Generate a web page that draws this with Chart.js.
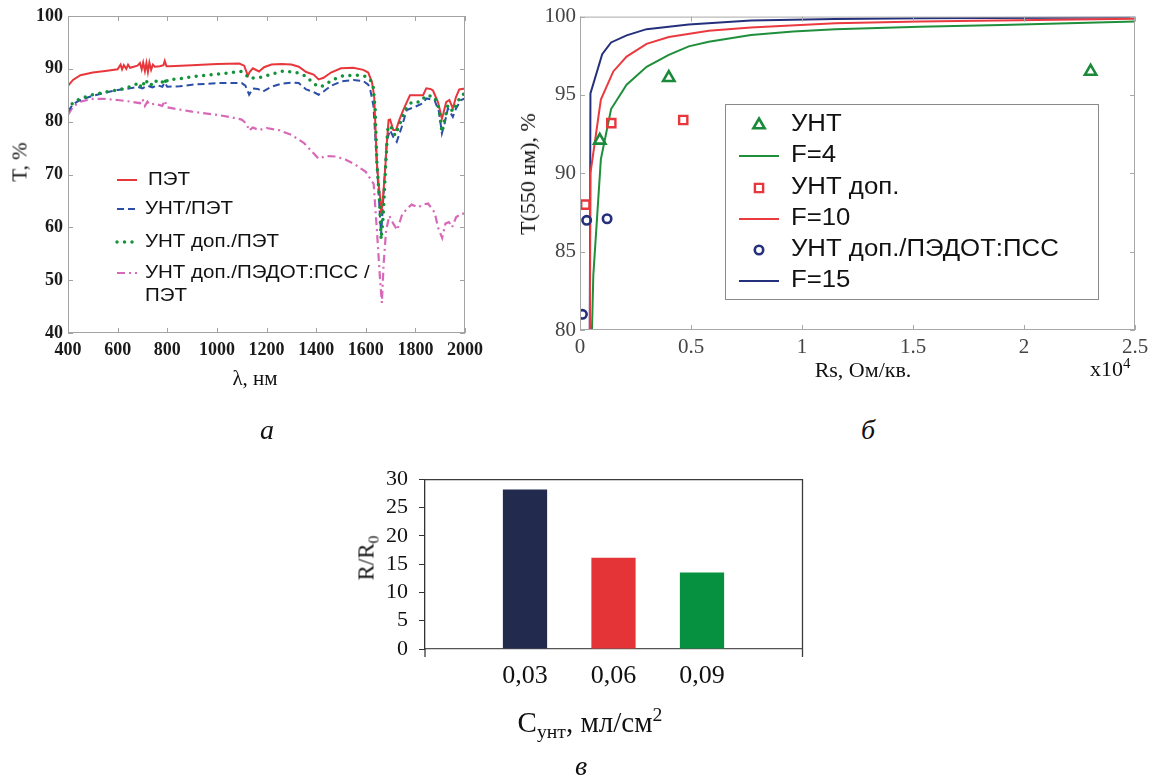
<!DOCTYPE html>
<html>
<head>
<meta charset="utf-8">
<script src="https://cdn.jsdelivr.net/npm/chart.js@4.4.0/dist/chart.umd.min.js"></script>
<style>
  html, body { margin: 0; padding: 0; background: #fff; }
  #page { position: relative; width: 1157px; height: 780px; overflow: hidden; font-family: "Liberation Serif", "Times New Roman", serif; color: #111; }
  .box { position: absolute; }
  .lbl { position: absolute; white-space: nowrap; line-height: 1; }
  .rot { transform: translate(-50%, -50%) rotate(-90deg); }
  .cen { transform: translate(-50%, -50%); }
  .it { font-style: italic; font-size: 28px; }
  .sub { font-size: 0.68em; position: relative; top: 0.3em; }
  .sup { font-size: 0.68em; position: relative; top: -0.55em; }
</style>
</head>
<body>
<div id="page">
  <div class="box" style="left:0;top:0;width:490px;height:400px"><canvas id="chA"></canvas></div>
  <div class="box" style="left:500px;top:0;width:657px;height:400px"><canvas id="chB"></canvas></div>
  <div class="box" style="left:340px;top:455px;width:480px;height:300px"><canvas id="chC"></canvas></div>

  <div class="lbl rot" style="left:20px;top:162px;font-size:21px">T, %</div>
  <div class="lbl cen" style="left:255px;top:378px;font-size:21px">λ, нм</div>
  <div class="lbl cen it" style="left:267px;top:430px">а</div>

  <div class="lbl rot" style="left:528px;top:174px;font-size:22px">T(550 нм), %</div>
  <div class="lbl cen" style="left:863px;top:370px;font-size:22px">Rs, Ом/кв.</div>
  <div class="lbl" style="left:1090px;top:358px;font-size:22px">x10<span class="sup">4</span></div>
  <div class="lbl cen it" style="left:868px;top:430px">б</div>

  <div class="lbl rot" style="left:366px;top:558px;font-size:23px">R/R<span class="sub">0</span></div>
  <div class="lbl cen" style="left:590px;top:722px;font-size:29px">C<span class="sub">унт</span>, мл/см<span class="sup">2</span></div>
  <div class="lbl cen it" style="left:581px;top:766px">в</div>
</div>

<script>
// ---- panel a: transmission spectra, T (%) vs wavelength (nm) ----
const lamPet = [400, 420, 450, 500, 550, 600, 612, 618, 625, 635, 642, 650, 665, 680, 690, 697, 703, 710, 716, 722, 728, 735, 742, 750, 770, 785, 790, 797, 810, 900, 1000, 1090, 1110, 1125, 1132, 1145, 1170, 1190, 1220, 1260, 1300, 1330, 1360, 1390, 1410, 1430, 1460, 1500, 1550, 1590, 1610, 1625, 1634, 1645, 1652, 1658, 1663, 1670, 1678, 1685, 1692, 1698, 1711, 1722, 1735, 1751, 1778, 1800, 1831, 1844, 1860, 1871, 1891, 1907, 1913, 1924, 1937, 1951, 1964, 1977, 2000];
const tPet = [86.8, 87.9, 88.8, 89.3, 89.6, 89.9, 90.8, 89.9, 90.7, 90.0, 90.8, 90.2, 90.4, 90.6, 91.1, 89.9, 91.2, 89.6, 91.1, 89.4, 91.2, 89.8, 90.8, 90.4, 90.5, 90.7, 91.5, 90.5, 90.5, 90.7, 90.9, 91.0, 90.6, 88.7, 89.4, 90.1, 89.5, 90.3, 90.8, 90.9, 90.8, 90.4, 89.4, 88.9, 88.0, 88.3, 89.3, 90.1, 90.2, 89.8, 89.3, 87.5, 84.7, 72.1, 68.0, 65.7, 62.5, 66.0, 70.8, 76.0, 80.3, 80.4, 78.4, 78.4, 80.3, 82.2, 85.0, 85.0, 85.0, 86.3, 86.2, 85.9, 83.7, 80.6, 81.6, 83.7, 84.1, 82.5, 84.7, 86.1, 86.3];

const lamCnt = [400, 420, 450, 500, 550, 600, 650, 680, 700, 720, 740, 760, 780, 790, 800, 850, 900, 1000, 1100, 1115, 1130, 1145, 1165, 1185, 1220, 1260, 1300, 1330, 1360, 1390, 1410, 1430, 1460, 1500, 1550, 1590, 1610, 1618, 1631, 1645, 1655, 1662, 1670, 1685, 1698, 1711, 1725, 1745, 1765, 1798, 1831, 1844, 1877, 1895, 1907, 1918, 1931, 1951, 1964, 1984, 2000];
const tCnt = [81.9, 83.3, 84.1, 84.9, 85.5, 86.0, 86.3, 86.6, 86.3, 86.8, 86.5, 86.9, 86.6, 87.4, 86.6, 86.7, 87.0, 87.3, 87.3, 86.8, 85.1, 86.3, 86.2, 85.7, 86.6, 87.2, 87.4, 87.3, 86.1, 85.6, 85.1, 85.7, 86.8, 87.6, 87.9, 87.7, 87.0, 86.1, 83.0, 72.0, 64.0, 58.5, 65.0, 76.5, 78.4, 77.1, 76.2, 79.0, 82.2, 82.8, 83.5, 84.4, 84.1, 81.9, 77.8, 79.7, 82.5, 80.9, 82.5, 84.1, 84.4];

const lamCntDop = [400, 420, 450, 500, 550, 600, 650, 680, 690, 700, 710, 720, 735, 750, 765, 780, 790, 795, 800, 850, 900, 1000, 1100, 1115, 1130, 1150, 1180, 1220, 1270, 1320, 1360, 1390, 1410, 1430, 1470, 1510, 1560, 1600, 1618, 1630, 1638, 1645, 1656, 1662, 1670, 1678, 1688, 1698, 1718, 1735, 1758, 1785, 1818, 1844, 1877, 1895, 1907, 1918, 1931, 1951, 1964, 1984, 2000];
const tCntDop = [82.2, 83.6, 84.4, 85.1, 85.6, 86.0, 86.6, 87.2, 86.5, 87.6, 86.7, 87.8, 87.0, 87.9, 87.2, 87.5, 88.2, 87.0, 87.9, 88.1, 88.5, 89.0, 89.5, 89.0, 88.2, 88.3, 88.4, 89.0, 89.6, 89.3, 88.6, 87.2, 86.6, 86.8, 88.0, 88.7, 88.8, 88.6, 88.0, 86.6, 82.4, 72.1, 64.7, 57.7, 62.0, 69.6, 78.4, 79.3, 77.4, 79.3, 82.2, 83.7, 83.7, 85.0, 84.7, 82.5, 78.0, 80.3, 83.1, 81.9, 83.1, 85.0, 85.3];

const lamPedot = [400, 420, 450, 500, 550, 600, 650, 690, 700, 710, 720, 730, 750, 780, 790, 800, 900, 1000, 1050, 1100, 1120, 1130, 1145, 1170, 1200, 1250, 1300, 1350, 1380, 1410, 1440, 1480, 1520, 1560, 1600, 1632, 1645, 1658, 1665, 1672, 1682, 1695, 1711, 1727, 1745, 1765, 1785, 1811, 1831, 1851, 1878, 1891, 1908, 1921, 1935, 1948, 1964, 1984, 2000];
const tPedot = [81.3, 82.8, 83.8, 84.3, 84.3, 84.1, 83.8, 83.5, 84.3, 83.0, 83.8, 83.2, 83.4, 83.0, 84.0, 82.7, 81.9, 81.3, 80.9, 80.4, 79.6, 78.3, 78.9, 78.4, 78.8, 78.4, 77.5, 76.0, 74.5, 73.0, 73.5, 73.4, 72.8, 71.8, 70.5, 68.2, 59.4, 49.9, 45.7, 53.1, 59.4, 62.2, 60.7, 59.5, 62.2, 63.5, 64.3, 63.8, 64.3, 64.5, 62.8, 60.0, 58.0, 60.7, 61.0, 60.0, 61.9, 62.6, 62.6];

const legendTextA = [['ПЭТ'], ['УНТ/ПЭТ'], ['УНТ доп./ПЭТ'], ['УНТ доп./ПЭДОТ:ПСС /', 'ПЭТ']];

// ---- panel b: T(550 nm) vs sheet resistance (x10^4 Ohm/sq) ----
const rsF4 = [0.045, 0.06, 0.094, 0.14, 0.21, 0.30, 0.40, 0.49, 0.58, 0.77, 0.96, 1.15, 1.53, 1.90, 2.50];
const tF4 = [75.0, 83.5, 90.9, 94.1, 95.65, 96.8, 97.56, 98.1, 98.4, 98.83, 99.05, 99.2, 99.36, 99.47, 99.68];
const rsF10 = [0.042, 0.047, 0.094, 0.15, 0.21, 0.30, 0.40, 0.58, 0.77, 1.15, 1.53, 2.50];
const tF10 = [70.0, 90.0, 94.7, 96.5, 97.45, 98.26, 98.7, 99.1, 99.3, 99.58, 99.68, 99.87];
const rsF15 = [0.042, 0.047, 0.10, 0.14, 0.21, 0.30, 0.49, 0.77, 1.15, 1.53, 2.50];
const tF15 = [70.0, 95.1, 97.6, 98.35, 98.8, 99.2, 99.5, 99.75, 99.85, 99.9, 99.95];
const rsCnt = [0.089, 0.40, 2.30];
const tCntPts = [92.1, 96.1, 96.5];
const rsCntDop = [0.024, 0.141, 0.465];
const tCntDopPts = [88.0, 93.2, 93.4];
const rsCntPedot = [0.011, 0.030, 0.122];
const tCntPedotPts = [81.0, 87.0, 87.1];

const legendTextB = ['УНТ', 'F=4', 'УНТ доп.', 'F=10', 'УНТ доп./ПЭДОТ:ПСС', 'F=15'];

// ---- panel c: R/R0 vs CNT load ----
const concValues = [0.03, 0.06, 0.09];
const concLabels = ['0,03', '0,06', '0,09'];
const ratioValues = [28.2, 16.1, 13.5];

const pts = (xs, ys) => xs.map((x, i) => ({ x: x, y: ys[i] }));

// grey matlab-style box with inward ticks
const frameTicks = {
  id: 'frameTicks',
  afterDatasetsDraw(chart, args, o) {
    const { ctx, chartArea: a, scales } = chart;
    ctx.save();
    ctx.strokeStyle = o.color;
    ctx.lineWidth = 1;
    ctx.setLineDash([]);
    ctx.strokeRect(a.left + 0.5, a.top + 0.5, a.width - 1, a.height - 1);
    ctx.beginPath();
    scales.x.ticks.forEach(t => {
      const px = Math.round(scales.x.getPixelForValue(t.value)) + 0.5;
      ctx.moveTo(px, a.bottom); ctx.lineTo(px, a.bottom - o.len);
      ctx.moveTo(px, a.top); ctx.lineTo(px, a.top + o.len);
    });
    scales.y.ticks.forEach(t => {
      const py = Math.round(scales.y.getPixelForValue(t.value)) + 0.5;
      ctx.moveTo(a.left, py); ctx.lineTo(a.left + o.len, py);
      ctx.moveTo(a.right, py); ctx.lineTo(a.right - o.len, py);
    });
    ctx.stroke();
    ctx.restore();
  }
};

function drawSymbol(ctx, style, x, y, r) {
  ctx.beginPath();
  if (style === 'triangle') {
    ctx.moveTo(x, y - r);
    ctx.lineTo(x + r * 0.866, y + r * 0.5);
    ctx.lineTo(x - r * 0.866, y + r * 0.5);
    ctx.closePath();
  } else if (style === 'rect') {
    const s = r * Math.SQRT1_2;
    ctx.rect(x - s, y - s, 2 * s, 2 * s);
  } else {
    ctx.arc(x, y, r, 0, Math.PI * 2);
  }
  ctx.stroke();
}

// legend drawn at fixed spots inside the plot, styles taken from the datasets
const boxLegend = {
  id: 'boxLegend',
  afterDatasetsDraw(chart, args, o) {
    const ctx = chart.ctx;
    ctx.save();
    if (o.box) {
      ctx.fillStyle = '#fff';
      ctx.strokeStyle = '#8a8a8a';
      ctx.lineWidth = 1;
      ctx.fillRect(o.box[0], o.box[1], o.box[2], o.box[3]);
      ctx.strokeRect(o.box[0] + 0.5, o.box[1] + 0.5, o.box[2], o.box[3]);
    }
    o.rows.forEach(r => {
      const ds = chart.data.datasets[r.ds];
      ctx.strokeStyle = ds.borderColor;
      if (ds.showLine) {
        ctx.lineWidth = ds.borderWidth;
        ctx.setLineDash(ds.borderDash || []);
        ctx.lineCap = ds.borderCapStyle || 'butt';
        ctx.beginPath();
        ctx.moveTo(o.x0, r.y);
        ctx.lineTo(o.x1, r.y);
        ctx.stroke();
      } else {
        ctx.setLineDash([]);
        ctx.lineWidth = ds.borderWidth;
        drawSymbol(ctx, ds.pointStyle, (o.x0 + o.x1) / 2, r.y, ds.pointRadius);
      }
      ctx.fillStyle = '#111';
      ctx.font = o.font;
      ctx.textBaseline = 'middle';
      r.text.forEach((line, k) => {
        ctx.save();
        ctx.translate(o.tx + (r.dx || 0), r.y + k * o.lineGap);
        ctx.scale(o.stretch, 1);
        ctx.fillText(line, 0, 0);
        ctx.restore();
      });
    });
    ctx.restore();
  }
};

// ---------- chart a ----------
new Chart(document.getElementById('chA'), {
  type: 'scatter',
  data: {
    datasets: [
      { label: 'ПЭТ', data: pts(lamPet, tPet), showLine: true, borderColor: '#e8373c', borderWidth: 2, pointRadius: 0, order: 1 },
      { label: 'УНТ/ПЭТ', data: pts(lamCnt, tCnt), showLine: true, borderColor: '#2b4ea8', borderWidth: 2, borderDash: [7, 4], pointRadius: 0, order: 2 },
      { label: 'УНТ доп./ПЭТ', data: pts(lamCntDop, tCntDop), showLine: true, borderColor: '#12923a', borderWidth: 3.5, borderDash: [0, 7.5], borderCapStyle: 'round', pointRadius: 0, order: 0 },
      { label: 'УНТ доп./ПЭДОТ:ПСС / ПЭТ', data: pts(lamPedot, tPedot), showLine: true, borderColor: '#d868b8', borderWidth: 2.2, borderDash: [8, 4, 2, 4], pointRadius: 0, order: 3 }
    ]
  },
  options: {
    responsive: true,
    maintainAspectRatio: false,
    animation: false,
    layout: { padding: { top: 16, right: 21, left: 0, bottom: 0 } },
    plugins: {
      legend: { display: false },
      tooltip: { enabled: false },
      frameTicks: { color: '#a3a3a3', len: 5 },
      boxLegend: {
        x0: 117, x1: 137, tx: 145, font: '18px "Liberation Sans", Arial, sans-serif', stretch: 1.14, lineGap: 23,
        rows: legendTextA.map((t, i) => ({ ds: i, text: t, y: [180, 209, 242, 273][i], dx: i === 0 ? 3 : 0 }))
      }
    },
    scales: {
      x: {
        type: 'linear', min: 400, max: 2000,
        grid: { display: false, drawTicks: false }, border: { display: false },
        ticks: { stepSize: 200, autoSkip: false, maxRotation: 0, padding: 7, color: '#1a1a1a', font: { family: 'Liberation Serif', size: 18, weight: 'bold' }, callback: v => String(v) },
        afterFit: s => { s.height = 67; }
      },
      y: {
        min: 40, max: 100,
        grid: { display: false, drawTicks: false }, border: { display: false },
        ticks: { stepSize: 10, padding: 5, color: '#1a1a1a', font: { family: 'Liberation Serif', size: 18, weight: 'bold' } },
        afterFit: s => { s.width = 68; }
      }
    }
  },
  plugins: [frameTicks, boxLegend]
});

// ---------- chart b ----------
new Chart(document.getElementById('chB'), {
  type: 'scatter',
  data: {
    datasets: [
      { label: 'УНТ', data: pts(rsCnt, tCntPts), pointStyle: 'triangle', pointRadius: 6.5, borderColor: '#1a8a3a', backgroundColor: 'rgba(255,255,255,0)', borderWidth: 2.6, order: 0 },
      { label: 'F=4', data: pts(rsF4, tF4), showLine: true, borderColor: '#1f8f3c', borderWidth: 2, pointRadius: 0, order: 1 },
      { label: 'УНТ доп.', data: pts(rsCntDop, tCntDopPts), pointStyle: 'rect', pointRadius: 5.8, borderColor: '#e8373c', backgroundColor: 'rgba(255,255,255,0)', borderWidth: 2.4, order: 0 },
      { label: 'F=10', data: pts(rsF10, tF10), showLine: true, borderColor: '#ea3a40', borderWidth: 2, pointRadius: 0, order: 1 },
      { label: 'УНТ доп./ПЭДОТ:ПСС', data: pts(rsCntPedot, tCntPedotPts), pointStyle: 'circle', pointRadius: 4.2, borderColor: '#25307c', backgroundColor: 'rgba(255,255,255,0)', borderWidth: 2.6, order: 0 },
      { label: 'F=15', data: pts(rsF15, tF15), showLine: true, borderColor: '#25307c', borderWidth: 2, pointRadius: 0, order: 1 }
    ]
  },
  options: {
    responsive: true,
    maintainAspectRatio: false,
    animation: false,
    layout: { padding: { top: 12, right: 22, left: 0, bottom: 0 } },
    plugins: {
      legend: { display: false },
      tooltip: { enabled: false },
      frameTicks: { color: '#a8a8a8', len: 5 },
      boxLegend: {
        box: [225, 104, 373, 195],
        x0: 239, x1: 279, tx: 291, font: '23px "Liberation Sans", Arial, sans-serif', stretch: 1.12, lineGap: 0,
        rows: legendTextB.map((t, i) => ({ ds: i, text: [t], y: [125, 156, 188, 219, 250, 281][i] }))
      }
    },
    scales: {
      x: {
        type: 'linear', min: 0, max: 2.5,
        grid: { display: false, drawTicks: false }, border: { display: false },
        ticks: { stepSize: 0.5, autoSkip: false, maxRotation: 0, padding: 5, color: '#444', font: { family: 'Liberation Serif', size: 21 }, callback: v => String(Math.round(v * 10) / 10) },
        afterFit: s => { s.height = 70; }
      },
      y: {
        min: 80, max: 100,
        grid: { display: false, drawTicks: false }, border: { display: false },
        ticks: { stepSize: 5, padding: 4, color: '#444', font: { family: 'Liberation Serif', size: 21 } },
        afterFit: s => { s.width = 80; }
      }
    }
  },
  plugins: [frameTicks, boxLegend]
});

// ---------- chart c ----------
const cornerLines = {
  id: 'cornerLines',
  afterDraw(chart) {
    const { ctx, chartArea: a } = chart;
    ctx.save();
    ctx.strokeStyle = '#3c3c3c';
    ctx.lineWidth = 1.3;
    ctx.beginPath();
    ctx.moveTo(a.left, a.top + 0.5); ctx.lineTo(a.right + 0.5, a.top + 0.5);
    ctx.lineTo(a.right + 0.5, a.bottom + 8);
    ctx.moveTo(a.left, a.bottom); ctx.lineTo(a.left, a.bottom + 8);
    ctx.stroke();
    ctx.restore();
  }
};

new Chart(document.getElementById('chC'), {
  type: 'bar',
  data: {
    datasets: [{
      data: pts(concValues, ratioValues),
      backgroundColor: ['#222b4e', '#e53437', '#05913f'],
      barPercentage: 0.5,
      categoryPercentage: 1
    }]
  },
  options: {
    responsive: true,
    maintainAspectRatio: false,
    animation: false,
    layout: { padding: { top: 19, right: 18, left: 0, bottom: 0 } },
    plugins: { legend: { display: false }, tooltip: { enabled: false } },
    scales: {
      x: {
        type: 'linear', min: -0.0039, max: 0.1239, offset: false,
        afterBuildTicks: s => { s.ticks = concValues.map(v => ({ value: v })); },
        grid: { display: false, drawTicks: false },
        border: { display: true, color: '#555', width: 1.3 },
        ticks: { autoSkip: false, maxRotation: 0, padding: 12, color: '#111', font: { family: 'Liberation Serif', size: 26 }, callback: (v, i) => concLabels[i] },
        afterFit: s => { s.height = 106; }
      },
      y: {
        min: 0, max: 30,
        grid: { display: true, drawOnChartArea: false, drawTicks: true, tickLength: 6, tickColor: '#333' },
        border: { display: true, color: '#333', width: 1.3 },
        ticks: { stepSize: 5, autoSkip: false, padding: 11, color: '#111', font: { family: 'Liberation Serif', size: 22 } },
        afterFit: s => { s.width = 85; }
      }
    }
  },
  plugins: [cornerLines]
});
</script>
</body>
</html>
